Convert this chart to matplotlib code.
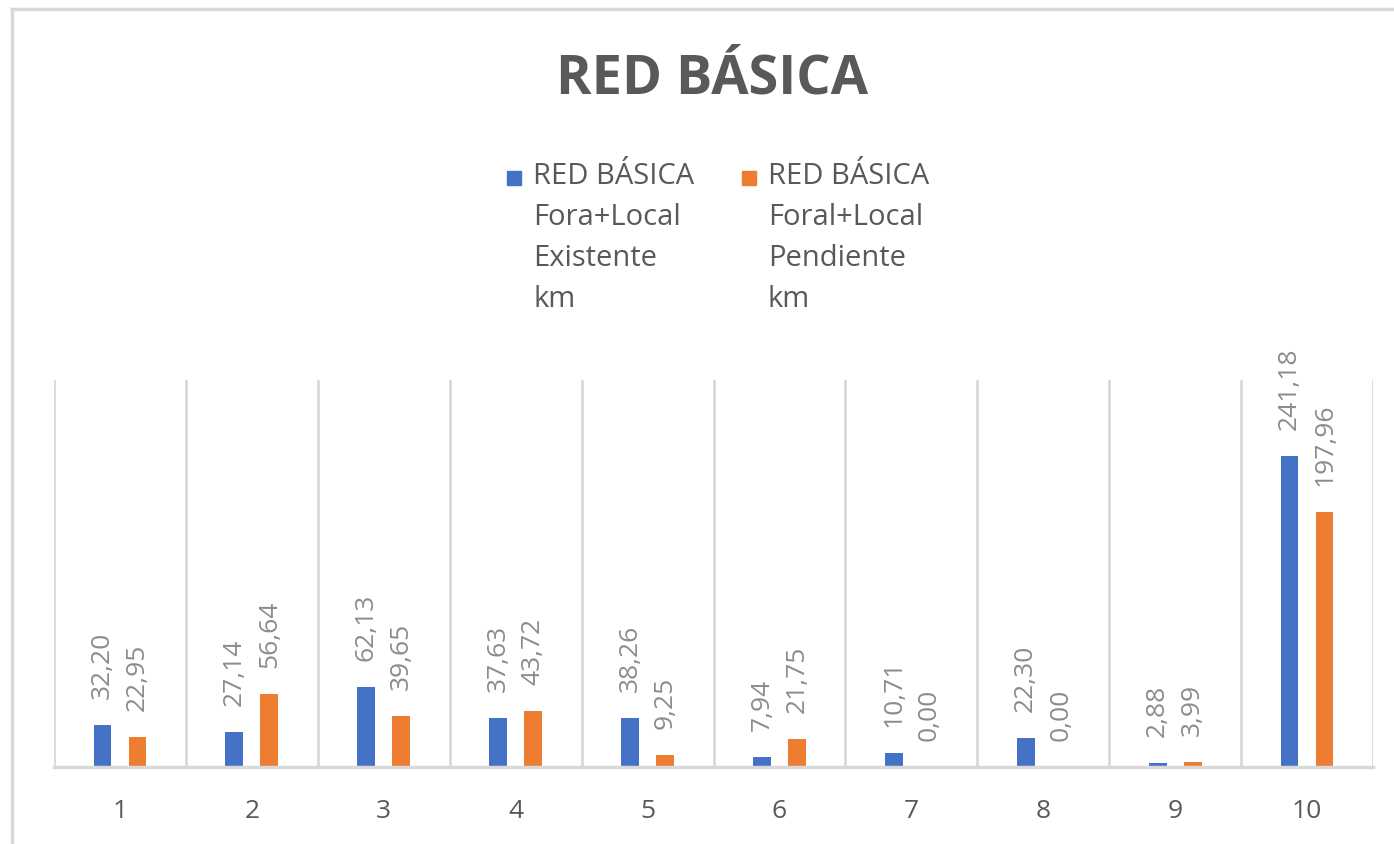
import matplotlib
matplotlib.use("Agg")
import matplotlib.pyplot as plt
from matplotlib.patches import Rectangle
from matplotlib.lines import Line2D
import numpy as np

categories = ["1", "2", "3", "4", "5", "6", "7", "8", "9", "10"]
existente = [32.20, 27.14, 62.13, 37.63, 38.26, 7.94, 10.71, 22.30, 2.88, 241.18]
pendiente = [22.95, 56.64, 39.65, 43.72, 9.25, 21.75, 0.00, 0.00, 3.99, 197.96]
series_labels = ["RED BÁSICA\nFora+Local\nExistente\nkm",
                 "RED BÁSICA\nForal+Local\nPendiente\nkm"]
title = "RED BÁSICA"

BLUE = "#4472C4"
ORANGE = "#ED7D31"
GRID = "#D9D9D9"
TXT = "#595959"
LBL = "#8C8C8C"
FONT = "Open Sans"

W, H = 1394, 844
fig = plt.figure(figsize=(W / 100, H / 100), dpi=100)
fig.patch.set_facecolor("white")

# figure border (top and left visible)
fig.add_artist(Line2D([12 / W, 1.0], [1 - 9 / H, 1 - 9 / H], transform=fig.transFigure,
                      color=GRID, lw=2.5))
fig.add_artist(Line2D([12 / W, 12 / W], [1 - 9 / H, 0], transform=fig.transFigure,
                      color=GRID, lw=2.5))

left, right = 54 / W, 1373 / W
bottom, top = 1 - 767 / H, 1 - 380 / H
ax = fig.add_axes([left, bottom, right - left, top - bottom])

x = np.arange(len(categories))
bw = 0.135
off = 0.133
b1 = ax.bar(x - off, existente, width=bw, color=BLUE, zorder=3)
b2 = ax.bar(x + off, pendiente, width=bw, color=ORANGE, zorder=3)

def fmt(v):
    return f"{v:.2f}".replace(".", ",")

for bars, vals in ((b1, existente), (b2, pendiente)):
    for rect, v in zip(bars, vals):
        ax.annotate(fmt(v), (rect.get_x() + rect.get_width() / 2, v),
                    xytext=(0, 26), textcoords="offset pixels",
                    rotation=90, ha="center", va="bottom",
                    fontsize=19, color=LBL, family=FONT, annotation_clip=False)

ax.set_xlim(-0.5, len(categories) - 0.5)
ax.set_ylim(0, 300)
ax.set_yticks([])
ax.set_xticks(x)
ax.set_xticklabels(categories, fontsize=19, color=TXT, family=FONT)
ax.tick_params(axis="x", length=0, pad=23)
ax.set_xticks(np.arange(-0.5, len(categories)), minor=True)
ax.tick_params(axis="x", which="minor", length=0)
ax.grid(axis="x", which="minor", color=GRID, lw=2, zorder=0)
ax.grid(axis="x", which="major", visible=False)
for s in ("top", "left", "right"):
    ax.spines[s].set_visible(False)
ax.spines["bottom"].set_color(GRID)
ax.spines["bottom"].set_linewidth(2.5)
ax.spines["bottom"].set_zorder(4)

# title
fig.text(712 / W, 1 - 80 / H, title, ha="center", va="center", fontsize=39,
         fontweight="bold", color=TXT, family=FONT)

# legend (manual)
for (sx, tx), col, lab in zip(((507, 533), (742, 768)), (BLUE, ORANGE), series_labels):
    fig.add_artist(Rectangle((sx / W, 1 - 185 / H), 14 / W, 14 / H,
                             transform=fig.transFigure, color=col))
    fig.text(tx / W, 1 - 162 / H, lab, ha="left", va="top", fontsize=21,
             color=TXT, family=FONT, linespacing=1.55)

fig.savefig("out.png", dpi=100, facecolor="white")
